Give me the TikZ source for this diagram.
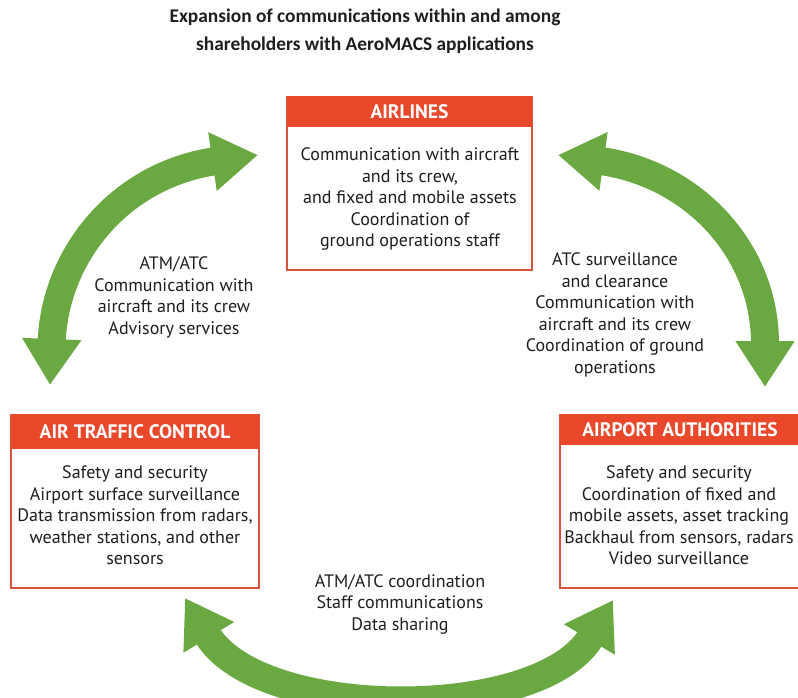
\documentclass[tikz,border=0pt]{standalone}
\usepackage{fontspec}
\setmainfont{PT Sans}
\newfontfamily\titlefont{Carlito}
\usetikzlibrary{arrows.meta}
\definecolor{arrowgreen}{RGB}{106,168,66}
\definecolor{headred}{RGB}{233,72,42}
\definecolor{borderred}{RGB}{214,82,58}
\definecolor{txt}{RGB}{30,30,30}
\tikzset{
  boxframe/.style={draw=borderred, line width=2.6pt, fill=white, inner sep=0pt},
  headbar/.style={fill=headred, draw=none, inner sep=0pt, text=white,
    font=\fontsize{19.5}{22}\selectfont\bfseries},
  bodytext/.style={align=center, inner sep=0pt, text=txt,
    font=\fontsize{18}{21.5}\selectfont},
  bigarrow/.style={draw=arrowgreen, line width=28pt,
    {Triangle[width=56pt,length=46pt]}-{Triangle[width=56pt,length=46pt]}},
}
\begin{document}
\begin{tikzpicture}[x=1pt,y=-1pt]
\useasboundingbox (0,0) rectangle (798,698);
\clip (0,0) rectangle (798,698);
% title
\node[align=center, inner sep=0pt, text=txt, font=\titlefont\bfseries\fontsize{19.4}{28}\selectfont] (title) at (365,31)
  {Expansion of communications within and among\\shareholders with AeroMACS applications};

% arrows
\coordinate (la1) at (50,385);
\coordinate (la2) at (258,155);
\coordinate (ra1) at (558,155);
\coordinate (ra2) at (765,387);
\coordinate (ba1) at (185,598);
\coordinate (ba2) at (613,600);
\draw[bigarrow] (la1) .. controls (55,255) and (120,175) .. (la2);
\draw[bigarrow] (ra1) .. controls (693,174) and (765,250) .. (ra2);
\draw[bigarrow] (ba1) .. controls (260,722) and (540,722) .. (ba2);

% Airlines box
\node[boxframe, minimum width=245pt, minimum height=173pt] (airlines) at (409.5,183.5) {};
\node[headbar, minimum width=245pt, minimum height=31pt, anchor=north] (airlinesH) at (airlines.north) {AIRLINES};
\node[bodytext] (airlinesT) at (410,199) {Communication with aircraft\\and its crew,\\and fixed and mobile assets\\Coordination of\\ground operations staff};

% ATC box
\node[boxframe, minimum width=248pt, minimum height=173pt] (atc) at (135,501.5) {};
\node[headbar, minimum width=248pt, minimum height=35pt, anchor=north] (atcH) at (atc.north) {AIR TRAFFIC CONTROL};
\node[bodytext] (atcT) at (135,515.5) {Safety and security\\Airport surface surveillance\\Data transmission from radars,\\weather stations, and other\\sensors};

% Airport authorities box
\node[boxframe, minimum width=240pt, minimum height=173pt] (aa) at (680,501.5) {};
\node[headbar, minimum width=240pt, minimum height=31pt, anchor=north] (aaH) at (aa.north) {AIRPORT AUTHORITIES};
\node[bodytext] (aaT) at (679,515.5) {Safety and security\\Coordination of fixed and\\mobile assets, asset tracking\\Backhaul from sensors, radars\\Video surveillance};

% arrow labels
\node[bodytext] (lLab) at (174,297.5) {ATM/ATC\\Communication with\\aircraft and its crew\\Advisory services};
\node[bodytext] (rLab) at (615,315) {ATC surveillance\\and clearance\\Communication with\\aircraft and its crew\\Coordination of ground\\operations};
\node[bodytext] (bLab) at (400,604) {ATM/ATC coordination\\Staff communications\\Data sharing};
\end{tikzpicture}
\end{document}
